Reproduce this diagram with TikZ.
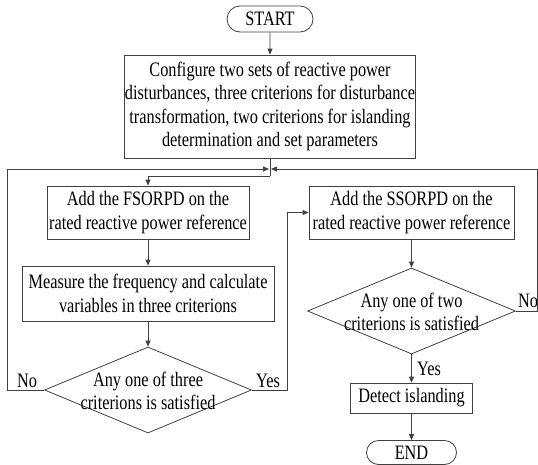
\documentclass[tikz,border=0pt]{standalone}
\usepackage{fontspec}
\setmainfont{Liberation Serif}[FakeStretch=0.795]
\usetikzlibrary{shapes.geometric,shapes.misc,arrows.meta}
\begin{document}
\begin{tikzpicture}[x=1pt,y=-1pt,
  every node/.style={font=\fontsize{20.5}{23.6}\selectfont},
  procbox/.style={draw=black!75, line width=0.8pt, rectangle, align=center, inner sep=0pt},
  termbox/.style={draw=black!75, line width=0.8pt, rounded rectangle, inner sep=0pt},
  decision/.style={draw=black!75, line width=0.8pt, diamond, inner sep=0pt},
  lbl/.style={inner sep=0pt},
  arr/.style={draw=black!75, line width=0.8pt, -{Triangle[length=6pt,width=5pt]}},
  ln/.style={draw=black!75, line width=0.8pt}]
\useasboundingbox (0,0) rectangle (538,464);
\node[termbox, minimum width=86pt, minimum height=26pt] (start) at (270,19) {START};
\node[procbox, minimum width=291pt, minimum height=103pt] (config) at (270,106.5)
  {Configure two sets of reactive power\\disturbances, three criterions for disturbance\\transformation, two criterions for islanding\\determination and set parameters};
\node[procbox, minimum width=202pt, minimum height=53pt] (fsorpd) at (148,212.5)
  {Add the FSORPD on the\\rated reactive power reference};
\node[procbox, minimum width=252pt, minimum height=55pt] (measure) at (148,293.5)
  {Measure the frequency and calculate\\variables in three criterions};
\node[decision, minimum width=207pt, minimum height=86pt] (d1) at (148,390) {};
\node[lbl, align=center] (d1t) at (148,391) {Any one of three\\criterions is satisfied};
\node[procbox, minimum width=205pt, minimum height=53pt] (ssorpd) at (411.5,212.5)
  {Add the SSORPD on the\\rated reactive power reference};
\node[decision, minimum width=208pt, minimum height=86pt] (d2) at (411.5,311) {};
\node[lbl, align=center] (d2t) at (411.5,312) {Any one of two\\criterions is satisfied};
\node[procbox, minimum width=122pt, minimum height=30pt] (detect) at (411.5,398) {Detect islanding};
\node[termbox, minimum width=90pt, minimum height=24pt] (end) at (411.5,452.5) {END};
\node[lbl] (no1) at (27,381) {No};
\node[lbl] (yes1) at (268,381) {Yes};
\node[lbl] (no2) at (528,301) {No};
\node[lbl] (yes2) at (429,369) {Yes};
\coordinate (merge) at (270,169);
\coordinate (split) at (270,176);
\coordinate (nL) at (7.5,169);
\coordinate (nR) at (537.5,169);
\coordinate (yR) at ([xshift=-21pt]ssorpd.west);
\draw[arr] (start) -- (config);
\draw[ln] (config.south) -- (split);
\draw[arr] (split) -| (fsorpd.north);
\draw[arr] (fsorpd) -- (measure);
\draw[arr] (measure) -- (d1.north);
\draw[arr] (d1.west) -| (nL) -- ([xshift=-1pt]merge);
\draw[arr] (d1.east) -| (yR) -- (ssorpd.west);
\draw[arr] (ssorpd) -- (d2.north);
\draw[arr] (d2.east) -| (nR) -- ([xshift=1pt]merge);
\draw[arr] (d2.south) -- (detect);
\draw[arr] (detect) -- (end);
\end{tikzpicture}
\end{document}
